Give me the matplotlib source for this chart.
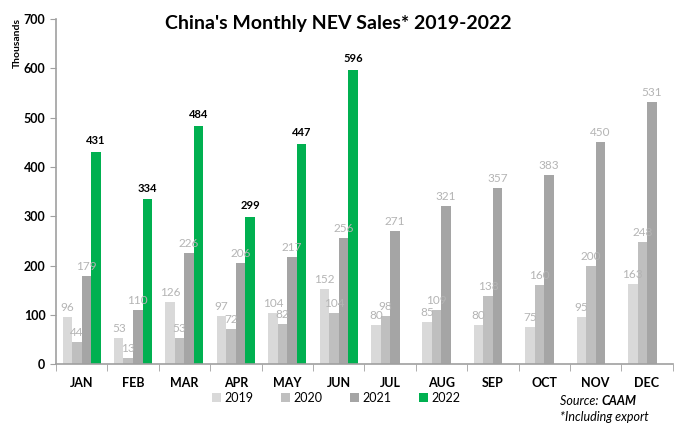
import numpy as np
import matplotlib.pyplot as plt
from matplotlib.ticker import FixedLocator

months = ["JAN", "FEB", "MAR", "APR", "MAY", "JUN", "JUL", "AUG", "SEP", "OCT", "NOV", "DEC"]
sales_2019 = [96, 53, 126, 97, 104, 152, 80, 85, 80, 75, 95, 163]
sales_2020 = [44, 13, 53, 72, 82, 104, 98, 109, 138, 160, 200, 248]
sales_2021 = [179, 110, 226, 206, 217, 256, 271, 321, 357, 383, 450, 531]
sales_2022 = [431, 334, 484, 299, 447, 596]
years = ["2019", "2020", "2021", "2022"]

plt.rcParams['font.family'] = ['Lato', 'DejaVu Sans']

fig = plt.figure(figsize=(6.9, 4.34), dpi=100)
ax = fig.add_axes([0.081, 0.161, 0.894, 0.795])

series = [sales_2019, sales_2020, sales_2021, sales_2022]
colors = ['#d9d9d9', '#bfbfbf', '#a5a5a5', '#00b050']
w = 0.185
x = np.arange(len(months))

handles = []
for i, (vals, col) in enumerate(zip(series, colors)):
    xs = x[:len(vals)] + (i - 1.5) * w
    b = ax.bar(xs, vals, width=w, color=col, label=years[i], zorder=2)
    handles.append(b)
    for xi, v in zip(xs, vals):
        if i == 3:
            ax.text(xi, v + 12, str(v), ha='center', va='bottom', fontsize=8,
                    fontweight='bold', color='black', zorder=3)
        else:
            ax.text(xi, v + 8, str(v), ha='center', va='bottom', fontsize=8.5,
                    color='#b4b4b4', zorder=3)

ax.set_xlim(-0.5, 11.5)
ax.set_ylim(0, 700)
ax.set_yticks(range(0, 701, 100))
ax.set_xticks(x)
ax.set_xticklabels(months, fontweight='bold', fontsize=9)
ax.tick_params(axis='x', length=0, pad=9)
ax.xaxis.set_minor_locator(FixedLocator(np.arange(-0.5, 12, 1)))
ax.tick_params(axis='x', which='minor', length=5, color='#a0a0a0', direction='out')
ax.tick_params(axis='y', length=4, color='#a0a0a0', labelsize=9)
for lab in ax.get_yticklabels():
    lab.set_fontweight('bold')

for s in ['top', 'right']:
    ax.spines[s].set_visible(False)
for s in ['left', 'bottom']:
    ax.spines[s].set_color('#a0a0a0')
    ax.spines[s].set_linewidth(1.2)

ax.set_ylabel("Thousands", fontsize=7.5, fontweight='bold', labelpad=4)
ax.yaxis.set_label_coords(-0.055, 0.93)

fig.text(0.49, 0.947, "China's Monthly NEV Sales* 2019-2022", ha='center', va='center',
         fontsize=14, fontweight='bold')

fig.legend(handles=handles, labels=years, loc='center', bbox_to_anchor=(0.487, 0.083),
           ncol=4, frameon=False, fontsize=9, handlelength=0.7, handleheight=0.7,
           columnspacing=2.2, handletextpad=0.3)

src = fig.text(0.812, 0.075, "Source: ", ha='left', va='center', fontsize=9, style='italic')
fig.canvas.draw()
bb = src.get_window_extent()
fig.text(bb.x1 / fig.bbox.width, 0.075, "CAAM", ha='left', va='center', fontsize=9,
         style='italic', fontweight='bold')
fig.text(0.812, 0.04, "*Including export", ha='left', va='center', fontsize=9,
         style='italic')

fig.savefig("out.png", dpi=100)
